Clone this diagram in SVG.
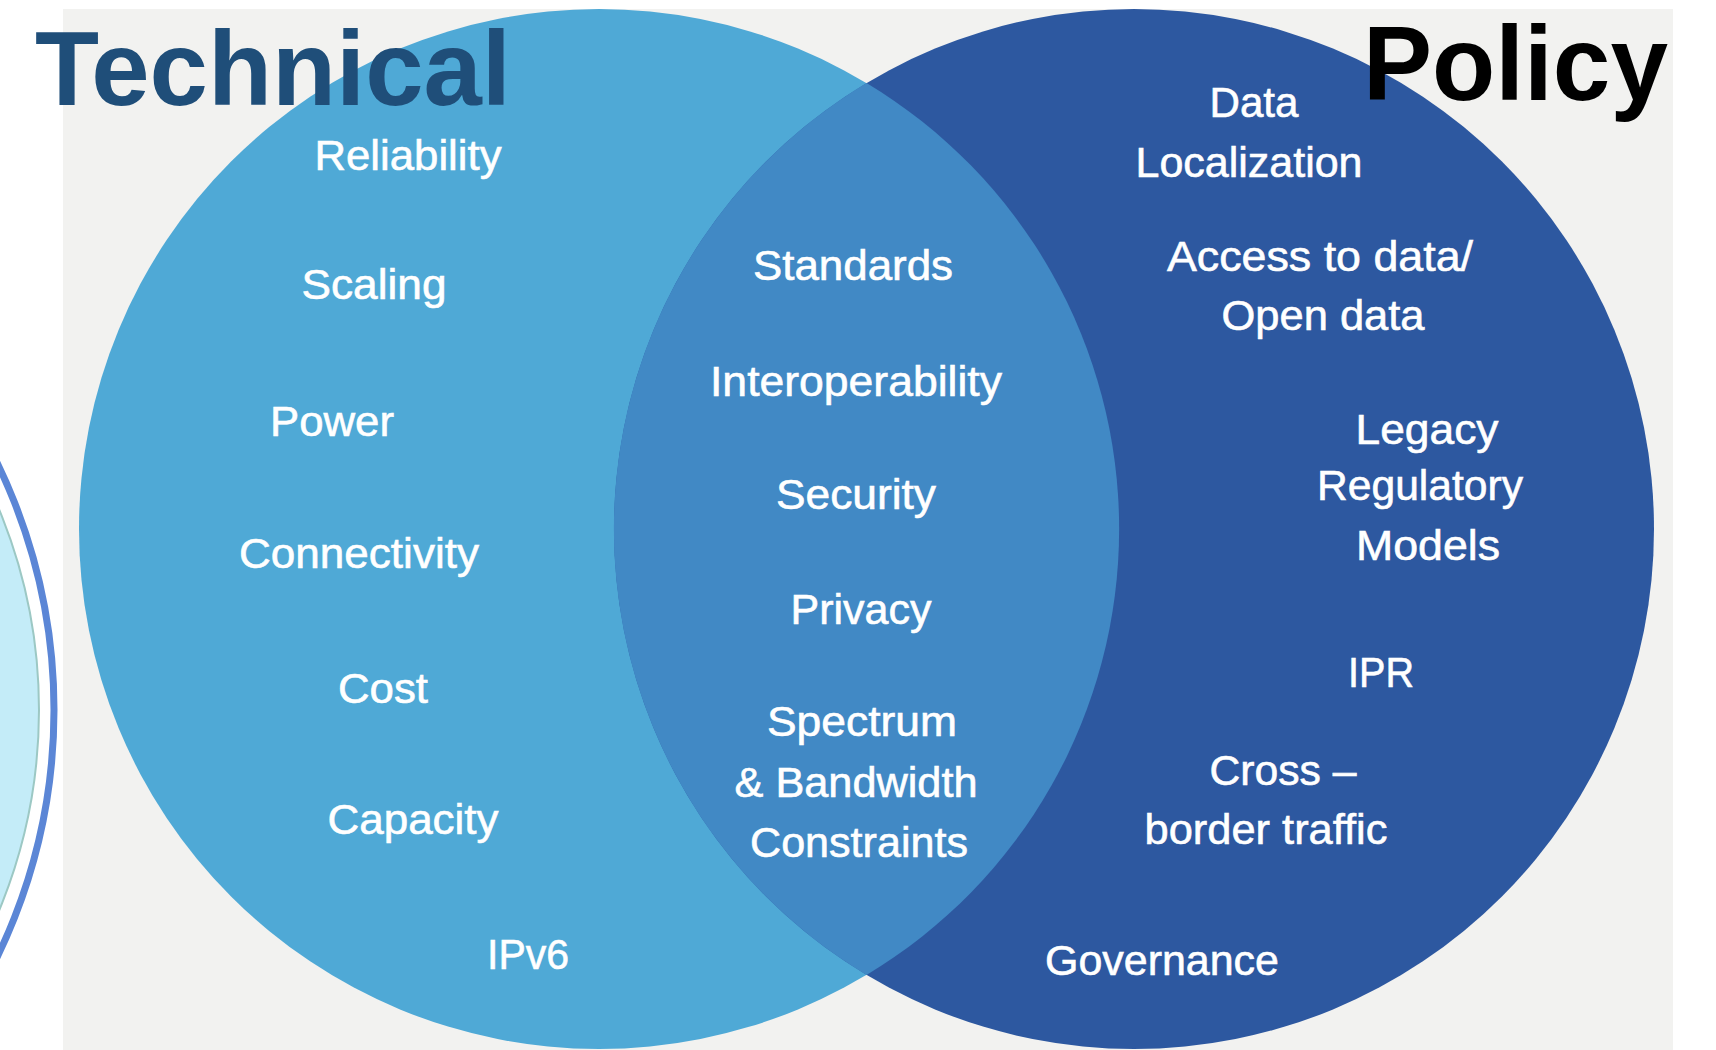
<svg xmlns="http://www.w3.org/2000/svg" width="1716" height="1050" viewBox="0 0 1716 1050">
<defs>
<style>
.lbl{font-family:"Liberation Sans",Arial,sans-serif;font-size:43px;fill:#ffffff;text-anchor:middle;stroke:#ffffff;stroke-width:0.6px}
.title{font-family:"Liberation Sans",Arial,sans-serif;font-weight:bold;font-size:106px}
</style>
</defs>
<rect x="0" y="0" width="1716" height="1050" fill="#ffffff"/>
<g id="deco">
<circle cx="-511" cy="710" r="565" fill="#ffffff" stroke="#5B86D6" stroke-width="7"/>
<circle cx="-485" cy="710" r="524" fill="#C4ECF8" stroke="#9CC8C4" stroke-width="2"/>
</g>
<rect id="background" x="63" y="9" width="1610" height="1041" fill="#F2F2F0"/>
<g id="technical-circle">
<circle cx="599" cy="529" r="520" fill="#4FA9D6"/>
</g>
<g id="policy-circle">
<circle cx="1134" cy="529" r="520" fill="#2D58A0"/>
</g>
<g id="overlap">
<path d="M866.5 83 A520 520 0 0 1 866.5 975 A520 520 0 0 1 866.5 83 Z" fill="#4189C5"/>
</g>
<g id="connectors"></g>
<g id="title-technical"><text class="title" x="35" y="105" fill="#1F4E79" textLength="476" lengthAdjust="spacingAndGlyphs">Technical</text></g>
<g id="title-policy"><text class="title" x="1363" y="100" fill="#000000" font-size="107" textLength="305" lengthAdjust="spacingAndGlyphs">Policy</text></g>
<g id="technical-labels">
<text class="lbl" x="408" y="170" textLength="187" lengthAdjust="spacingAndGlyphs">Reliability</text>
<text class="lbl" x="374" y="299" textLength="145" lengthAdjust="spacingAndGlyphs">Scaling</text>
<text class="lbl" x="332" y="436" textLength="124" lengthAdjust="spacingAndGlyphs">Power</text>
<text class="lbl" x="359" y="568" textLength="240" lengthAdjust="spacingAndGlyphs">Connectivity</text>
<text class="lbl" x="383" y="703" textLength="90" lengthAdjust="spacingAndGlyphs">Cost</text>
<text class="lbl" x="413" y="834" textLength="171" lengthAdjust="spacingAndGlyphs">Capacity</text>
<text class="lbl" x="528" y="969" textLength="82" lengthAdjust="spacingAndGlyphs">IPv6</text>
</g>
<g id="shared-labels">
<text class="lbl" x="853" y="280" textLength="200" lengthAdjust="spacingAndGlyphs">Standards</text>
<text class="lbl" x="856" y="396" textLength="292" lengthAdjust="spacingAndGlyphs">Interoperability</text>
<text class="lbl" x="856" y="509" textLength="160" lengthAdjust="spacingAndGlyphs">Security</text>
<text class="lbl" x="861" y="624" textLength="141" lengthAdjust="spacingAndGlyphs">Privacy</text>
<text class="lbl" x="862" y="736" textLength="190" lengthAdjust="spacingAndGlyphs">Spectrum</text>
<text class="lbl" x="856" y="797" textLength="243" lengthAdjust="spacingAndGlyphs">&amp; Bandwidth</text>
<text class="lbl" x="859" y="857" textLength="218" lengthAdjust="spacingAndGlyphs">Constraints</text>
</g>
<g id="policy-labels">
<text class="lbl" x="1254" y="117" textLength="89" lengthAdjust="spacingAndGlyphs">Data</text>
<text class="lbl" x="1249" y="177" textLength="227" lengthAdjust="spacingAndGlyphs">Localization</text>
<text class="lbl" x="1320" y="271" textLength="306" lengthAdjust="spacingAndGlyphs">Access to data/</text>
<text class="lbl" x="1323" y="330" textLength="203" lengthAdjust="spacingAndGlyphs">Open data</text>
<text class="lbl" x="1427" y="444" textLength="143" lengthAdjust="spacingAndGlyphs">Legacy</text>
<text class="lbl" x="1420" y="500" textLength="206" lengthAdjust="spacingAndGlyphs">Regulatory</text>
<text class="lbl" x="1428" y="560" textLength="144" lengthAdjust="spacingAndGlyphs">Models</text>
<text class="lbl" x="1381" y="687" textLength="66" lengthAdjust="spacingAndGlyphs">IPR</text>
<text class="lbl" x="1283" y="785" textLength="147" lengthAdjust="spacingAndGlyphs">Cross –</text>
<text class="lbl" x="1266" y="844" textLength="243" lengthAdjust="spacingAndGlyphs">border traffic</text>
<text class="lbl" x="1162" y="975" textLength="234" lengthAdjust="spacingAndGlyphs">Governance</text>
</g>
</svg>
